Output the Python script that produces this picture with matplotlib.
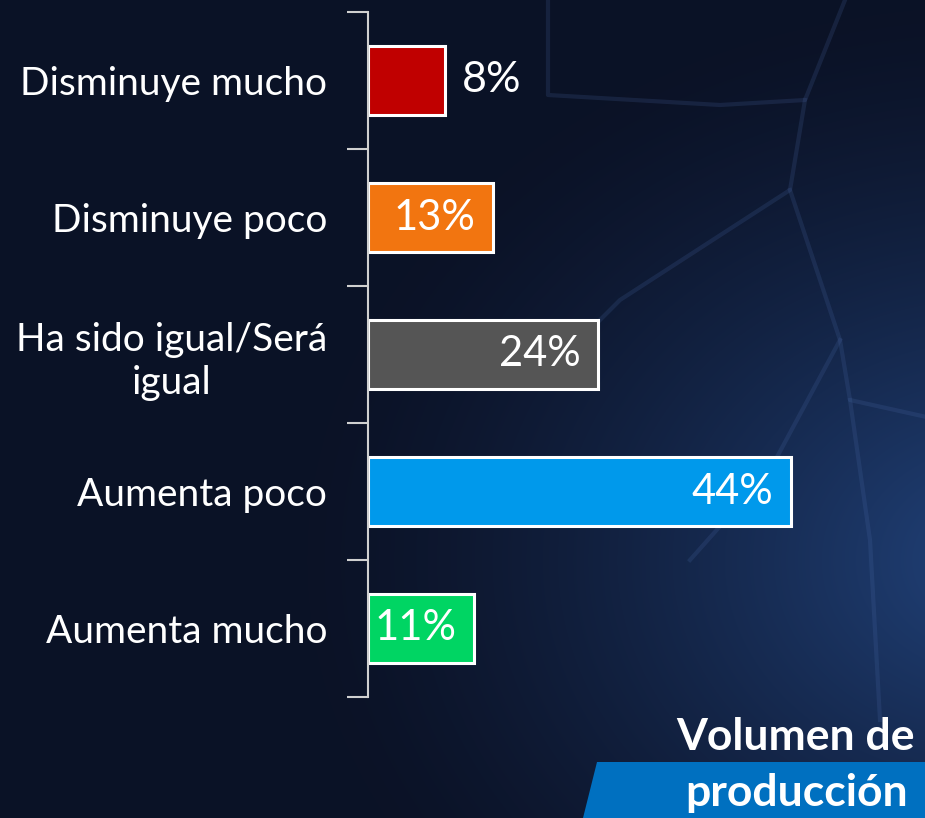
import numpy as np
import matplotlib
matplotlib.use("Agg")
import matplotlib.pyplot as plt
from matplotlib.patches import Polygon

categories = ["Disminuye mucho", "Disminuye poco", "Ha sido igual/Será\nigual", "Aumenta poco", "Aumenta mucho"]
values = [8, 13, 24, 44, 11]
colors = ["#c00000", "#f27510", "#555555", "#0099eb", "#00d563"]
value_labels = ["8%", "13%", "24%", "44%", "11%"]
title_lines = ["Volumen de", "producción"]

FONT = "Lato"
W, H = 925, 818
fig = plt.figure(figsize=(W / 100, H / 100), dpi=100)

# background gradient
bg = fig.add_axes([0, 0, 1, 1])
bg.set_xlim(0, W); bg.set_ylim(H, 0); bg.axis("off")
yy, xx = np.mgrid[0:H, 0:W]
base = np.array([0.043, 0.071, 0.15])
glow = np.array([0.13, 0.26, 0.48])
d = np.sqrt(((xx - 1000) / 700.0) ** 2 + ((yy - 560) / 560.0) ** 2)
t = np.clip(1 - d, 0, 1) ** 1.4
img = base[None, None, :] * (1 - t[..., None]) + glow[None, None, :] * t[..., None]
bg.imshow(img, extent=[0, W, H, 0], aspect="auto", zorder=0)
# faint decorative ridges
deco = [
    [(548, 0), (548, 95), (720, 105), (805, 100), (845, 0)],
    [(805, 100), (790, 190), (620, 300), (590, 330)],
    [(790, 190), (840, 340), (850, 400), (940, 420)],
    [(840, 340), (770, 470), (690, 560)],
    [(850, 400), (870, 540), (880, 720)],
]
for pts in deco:
    xs, ys = zip(*pts)
    bg.plot(xs, ys, color="#5070b0", lw=3, alpha=0.18, zorder=1,
            solid_joinstyle="round")

# blue parallelogram behind title
bg.add_patch(Polygon([(597, 762), (W, 762), (W, H), (583, H)], closed=True,
                     facecolor="#0070c0", edgecolor="none", zorder=2))
bg.text(915, 737, title_lines[0], ha="right", va="center", color="white",
        fontsize=32, fontweight="bold", family=FONT, zorder=3)
bg.text(908, 793, title_lines[1], ha="right", va="center", color="white",
        fontsize=32, fontweight="bold", family=FONT, zorder=3)

# chart
ax = fig.add_axes([368 / W, (H - 697) / H, (W - 368) / W, 685 / H])
ax.patch.set_alpha(0)
y = np.arange(len(categories))
ax.barh(y, values, height=0.5, color=colors, edgecolor="white", linewidth=2.2)
ax.set_xlim(0, 58)
ax.set_ylim(len(categories) - 0.5, -0.5)
for s in ["top", "right", "bottom"]:
    ax.spines[s].set_visible(False)
ax.spines["left"].set_color("#d0d0d0")
ax.spines["left"].set_linewidth(1.5)
ax.set_xticks([])
ax.set_yticks(y)
ax.set_yticklabels(categories, color="white", fontsize=28, family=FONT,
                   multialignment="center", linespacing=1.25)
ax.tick_params(axis="y", which="major", length=0, pad=29.5)
ax.set_yticks(np.arange(-0.5, len(categories), 1), minor=True)
ax.tick_params(axis="y", which="minor", length=15, width=1.5, color="#d0d0d0")

for i, (v, lab) in enumerate(zip(values, value_labels)):
    if v < 10:
        ax.text(v + 1.8, i, lab, ha="left", va="center", color="white", fontsize=31, family=FONT)
    else:
        ax.text(v - 1.8, i, lab, ha="right", va="center", color="white", fontsize=30, family=FONT)

fig.savefig("out.png", dpi=100)
